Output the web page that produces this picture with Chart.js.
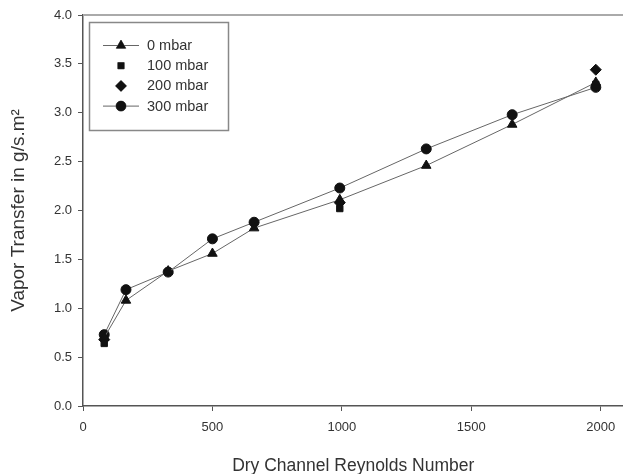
<!DOCTYPE html>
<html lang="en">
<head>
<meta charset="utf-8">
<title>Vapor transfer</title>
<script src="https://cdn.jsdelivr.net/npm/chart.js"></script>
<style>
  html, body { margin: 0; padding: 0; background: #fff; overflow: hidden; }
  #wrap { width: 623px; height: 474px; overflow: hidden; }
  canvas { display: block; }
</style>
</head>
<body>
<div id="wrap"><canvas id="myChart" width="630" height="474"></canvas></div>
<script>
    // Reynolds numbers (x) and vapor transfer (y)
    const re0 = [82, 166, 329, 500, 661, 992, 1326, 1658, 1981];
    const mbar0 = [0.70, 1.08, 1.38, 1.56, 1.82, 2.11, 2.46, 2.88, 3.31];
    const re100 = [82, 992, 1981];
    const mbar100 = [0.64, 2.02, 3.29];
    const re200 = [82, 992, 1981];
    const mbar200 = [0.68, 2.08, 3.44];
    const re300 = [82, 166, 329, 500, 661, 992, 1326, 1658, 1981];
    const mbar300 = [0.73, 1.19, 1.37, 1.71, 1.88, 2.23, 2.63, 2.98, 3.26];
    const xTicks = [0, 500, 1000, 1500, 2000];
    const yTicks = [0, 0.5, 1, 1.5, 2, 2.5, 3, 3.5, 4];

    const pts = (xs, ys) => xs.map((x, i) => ({ x: x, y: ys[i] }));
    const ink = '#111';
    const lineCol = '#666';
    const txt = '#333';
    const fam = '"Liberation Sans", Arial, sans-serif';

    const series = [
        { label: '0 mbar', data: pts(re0, mbar0), pointStyle: 'triangle', pointRadius: 5.5, showLine: true },
        { label: '100 mbar', data: pts(re100, mbar100), pointStyle: 'rect', pointRadius: 4.5, showLine: false },
        { label: '200 mbar', data: pts(re200, mbar200), pointStyle: 'rectRot', pointRadius: 5.5, showLine: false },
        { label: '300 mbar', data: pts(re300, mbar300), pointStyle: 'circle', pointRadius: 5, showLine: true },
    ];

    // legend box drawn inside the plot, with line + marker samples
    const boxLegend = {
        id: 'boxLegend',
        afterDraw(chart) {
            const c = chart.ctx;
            const a = chart.chartArea;
            c.save();
            // frame top edge
            c.strokeStyle = '#aaa';
            c.lineWidth = 2;
            c.beginPath();
            c.moveTo(a.left, a.top);
            c.lineTo(a.right, a.top);
            c.stroke();
            // legend box
            const bx = 89, by = 22, bw = 139, bh = 108;
            c.strokeStyle = '#888';
            c.lineWidth = 1.5;
            c.strokeRect(bx + 0.5, by + 0.5, bw, bh);
            c.font = '14.5px ' + fam;
            c.textBaseline = 'middle';
            chart.data.datasets.forEach((ds, i) => {
                const y = 45.5 + i * 20.2;
                const mx = 121;
                if (ds.showLine) {
                    c.strokeStyle = lineCol;
                    c.lineWidth = 1;
                    c.beginPath();
                    c.moveTo(103, y);
                    c.lineTo(139, y);
                    c.stroke();
                }
                Chart.helpers.drawPoint(c, {
                    pointStyle: ds.pointStyle, radius: ds.pointRadius, rotation: 0, borderWidth: 1
                }, mx, y);
                c.fillStyle = ink;
                c.fill();
                c.fillStyle = txt;
                c.fillText(ds.label, 147, y + 0.5);
            });
            c.restore();
        }
    };

    const ctx = document.getElementById('myChart');
    new Chart(ctx, {
        type: 'scatter',
        data: {
            datasets: series.map(s => ({
                label: s.label,
                data: s.data,
                showLine: s.showLine,
                borderColor: lineCol,
                borderWidth: 1,
                pointStyle: s.pointStyle,
                pointRadius: s.pointRadius,
                pointBackgroundColor: ink,
                pointBorderColor: ink,
                pointBorderWidth: 1,
                tension: 0
            }))
        },
        options: {
            responsive: false,
            animation: false,
            layout: { padding: { top: 15, right: 0, bottom: 0, left: 0 } },
            plugins: { legend: { display: false }, tooltip: { enabled: false } },
            scales: {
                x: {
                    type: 'linear',
                    min: 0, max: 2088,
                    afterFit(scale) { scale.height = 68; },
                    afterBuildTicks(scale) { scale.ticks = xTicks.map(v => ({ value: v })); },
                    grid: { drawOnChartArea: false, drawTicks: true, tickLength: 5, color: '#555' },
                    border: { display: true, color: '#555', width: 1.5 },
                    ticks: {
                        color: txt, font: { family: fam, size: 13 }, padding: 9, maxRotation: 0,
                        callback: v => String(v)
                    },
                    title: {
                        display: true, text: 'Dry Channel Reynolds Number',
                        color: txt, font: { family: fam, size: 17.5 }, padding: { top: 0, bottom: -3 }
                    }
                },
                y: {
                    type: 'linear',
                    min: 0, max: 4,
                    afterFit(scale) { scale.width = 83; },
                    afterBuildTicks(scale) { scale.ticks = yTicks.map(v => ({ value: v })); },
                    grid: { drawOnChartArea: false, drawTicks: true, tickLength: 5, color: '#555' },
                    border: { display: true, color: '#555', width: 1.5 },
                    ticks: {
                        color: txt, font: { family: fam, size: 13 }, padding: 6,
                        callback: v => v.toFixed(1)
                    },
                    title: {
                        display: true, text: 'Vapor Transfer in g/s.m\u00B2',
                        color: txt, font: { family: fam, size: 19 }, padding: { top: 7, bottom: 0 }
                    }
                }
            }
        },
        plugins: [boxLegend]
    });
</script>
</body>
</html>
